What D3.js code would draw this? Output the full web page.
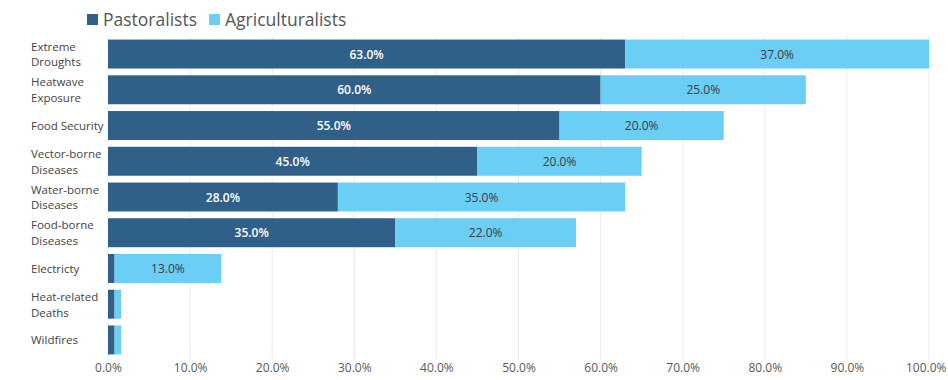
<!DOCTYPE html>
<html>
<head>
<meta charset="utf-8">
<script src="https://cdn.jsdelivr.net/npm/d3@7"></script>
<style>
  html, body { margin: 0; padding: 0; background: #fff; }
  svg { display: block; font-family: "Open Sans", "Noto Sans", sans-serif; }
</style>
</head>
<body>
<svg id="chart" width="948" height="380"></svg>
<script>
// Climate risk exposure by livelihood group (share of respondents)
const categories = [
  ["Extreme", "Droughts"],
  ["Heatwave", "Exposure"],
  ["Food Security"],
  ["Vector-borne", "Diseases"],
  ["Water-borne", "Diseases"],
  ["Food-borne", "Diseases"],
  ["Electricty"],
  ["Heat-related", "Deaths"],
  ["Wildfires"]
];
const pastoralists     = [63, 60, 55, 45, 28, 35, 0.8, 0.8, 0.8];
const agriculturalists = [37, 25, 20, 20, 35, 22, 13, 0.8, 0.8];
const seriesNames = ["Pastoralists", "Agriculturalists"];
const xTicks = [0, 10, 20, 30, 40, 50, 60, 70, 80, 90, 100];
// values under this are drawn without an inline label
const labelMin = 5;

const colors = ["#305f87", "#6bcef4"];

const svg = d3.select("#chart");
const margin = { top: 36, right: 19, bottom: 22, left: 108 };
const W = 948, H = 380;

const x = d3.scaleLinear().domain([0, 100]).range([margin.left, W - margin.right]);
const y = d3.scaleBand()
  .domain(d3.range(categories.length))
  .range([margin.top, H - margin.bottom])
  .paddingInner(0.19)
  .paddingOuter(0.1);

// grid lines
svg.append("g")
  .selectAll("line")
  .data(xTicks)
  .join("line")
  .attr("x1", d => x(d)).attr("x2", d => x(d))
  .attr("y1", margin.top).attr("y2", H - margin.bottom + 2)
  .attr("stroke", "#ececec").attr("stroke-width", 1);

// x axis labels
const xAxis = d3.axisBottom(x).tickValues(xTicks).tickSize(0).tickFormat(d => d3.format(".1f")(d) + "%");
const gx = svg.append("g")
  .attr("transform", `translate(0,${H - 14})`)
  .call(xAxis);
gx.select(".domain").remove();
gx.selectAll("text")
  .attr("dy", 0)
  .attr("dominant-baseline", "middle")
  .attr("fill", "#595959")
  .style("font-size", "12px")
  .style("font-family", "'Open Sans', sans-serif");
// keep the last tick label inside the frame
gx.selectAll(".tick").filter(d => d === 100).select("text")
  .attr("text-anchor", "end")
  .attr("x", W - 2 - x(100));

// stacked bars
const rows = categories.map((c, i) => ({ i, p: pastoralists[i], a: agriculturalists[i] }));

const g = svg.append("g");
rows.forEach(r => {
  const segs = [
    { s: 0, x0: 0, x1: r.p, v: r.p },
    { s: 1, x0: r.p, x1: r.p + r.a, v: r.a }
  ];
  segs.forEach(sg => {
    g.append("rect")
      .attr("x", x(sg.x0))
      .attr("y", y(r.i))
      .attr("width", x(sg.x1) - x(sg.x0))
      .attr("height", y.bandwidth())
      .attr("fill", colors[sg.s]);
    if (sg.v >= labelMin) {
      g.append("text")
        .attr("x", (x(sg.x0) + x(sg.x1)) / 2)
        .attr("y", y(r.i) + y.bandwidth() / 2)
        .attr("text-anchor", "middle")
        .attr("dominant-baseline", "central")
        .attr("fill", sg.s === 0 ? "#ffffff" : "#3b3b3b")
        .style("font-size", "12px")
        .style("font-weight", sg.s === 0 ? "600" : "400")
        .text(d3.format(".1f")(sg.v) + "%");
    }
  });
});

// category labels
const yl = svg.append("g");
categories.forEach((lines, i) => {
  const cy = y(i) + y.bandwidth() / 2;
  const lh = 15.8;
  const t = yl.append("text")
    .attr("x", 31)
    .attr("fill", "#444")
    .style("font-size", "11.5px");
  lines.forEach((ln, k) => {
    t.append("tspan")
      .attr("x", 31)
      .attr("y", cy + (k - (lines.length - 1) / 2) * lh)
      .attr("dominant-baseline", "central")
      .text(ln);
  });
});

// legend
const legend = svg.append("g").attr("transform", "translate(87,19)");
const legendX = [0, 122];
seriesNames.forEach((name, k) => {
  const item = legend.append("g").attr("transform", `translate(${legendX[k]},0)`);
  item.append("rect").attr("x", 0).attr("y", -5).attr("width", 11).attr("height", 11).attr("fill", colors[k]);
  item.append("text")
    .attr("x", 16).attr("y", 0)
    .attr("dominant-baseline", "central")
    .attr("fill", "#555")
    .style("font-size", "17.5px")
    .text(name);
});
</script>
</body>
</html>
